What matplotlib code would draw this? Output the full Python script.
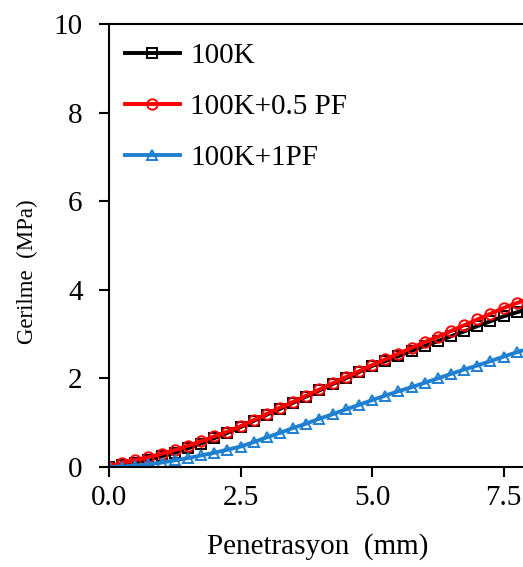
import matplotlib.pyplot as plt
import numpy as np

plt.rcParams["font.family"] = ["Liberation Serif", "DejaVu Serif"]

# penetration readings every 0.25 mm
penetration = np.arange(0, 33) * 0.25

stress_100k = [
    0.00, 0.05, 0.10, 0.16, 0.24, 0.32, 0.42, 0.53, 0.65, 0.77, 0.90,
    1.04, 1.18, 1.31, 1.45, 1.59, 1.73, 1.87, 2.00, 2.14, 2.28,
    2.39, 2.50, 2.62, 2.73, 2.84, 2.95, 3.06, 3.18, 3.29, 3.40, 3.49, 3.58,
]
stress_05pf = [
    0.00, 0.10, 0.16, 0.22, 0.30, 0.38, 0.48, 0.58, 0.69, 0.80, 0.92,
    1.06, 1.20, 1.34, 1.47, 1.61, 1.75, 1.89, 2.03, 2.16, 2.30,
    2.43, 2.56, 2.69, 2.82, 2.94, 3.07, 3.20, 3.33, 3.46, 3.59, 3.70, 3.81,
]
stress_1pf = [
    0.00, 0.01, 0.03, 0.06, 0.10, 0.15, 0.20, 0.26, 0.32, 0.39, 0.46,
    0.56, 0.67, 0.77, 0.88, 0.98, 1.09, 1.19, 1.30, 1.40, 1.51,
    1.61, 1.71, 1.80, 1.90, 2.00, 2.10, 2.20, 2.29, 2.39, 2.49, 2.59, 2.68,
]

labels = ["100K", "100K+0.5 PF", "100K+1PF"]
colors = ["black", "#ff0000", "#1f7fd0"]
markers = ["s", "o", "^"]
x_ticks = [0, 2.5, 5.0, 7.5]
y_ticks = [0, 2, 4, 6, 8, 10]

fig = plt.figure(figsize=(5.23, 5.67), dpi=100)
# the plot area runs on past the right edge of the figure
ax = fig.add_axes([0.2084, 0.1764, 1.006, 0.7813])

for y, lab, c, m in zip([stress_100k, stress_05pf, stress_1pf], labels, colors, markers):
    ax.plot(penetration, y, color=c, lw=2.8, marker=m, ms=7.5,
            mfc="none", mec=c, mew=1.4, label=lab)

ax.set_xlim(0, 10)
ax.set_ylim(0, 10)
ax.set_xticks(x_ticks)
ax.set_xticklabels([f"{t:.1f}" for t in x_ticks])
ax.set_yticks(y_ticks)

for s in ax.spines.values():
    s.set_linewidth(1.5)
ax.tick_params(axis="both", direction="out", length=7, width=1.5, labelsize=21)
ax.tick_params(axis="y", pad=12)
ax.tick_params(axis="x", pad=6)

ax.set_xlabel("Penetrasyon  (mm)", fontsize=21)
ax.set_ylabel("Gerilme  (MPa)", fontsize=16.5)
ax.xaxis.set_label_coords(0.397, -0.15)
ax.yaxis.set_label_coords(-0.135, 0.44)

ax.legend(loc="upper left", bbox_to_anchor=(0.03, 0.958), frameon=False,
          fontsize=21, handlelength=1.9, handletextpad=0.35,
          labelspacing=0.84, borderpad=0, borderaxespad=0)

fig.savefig("out.png", dpi=100)
